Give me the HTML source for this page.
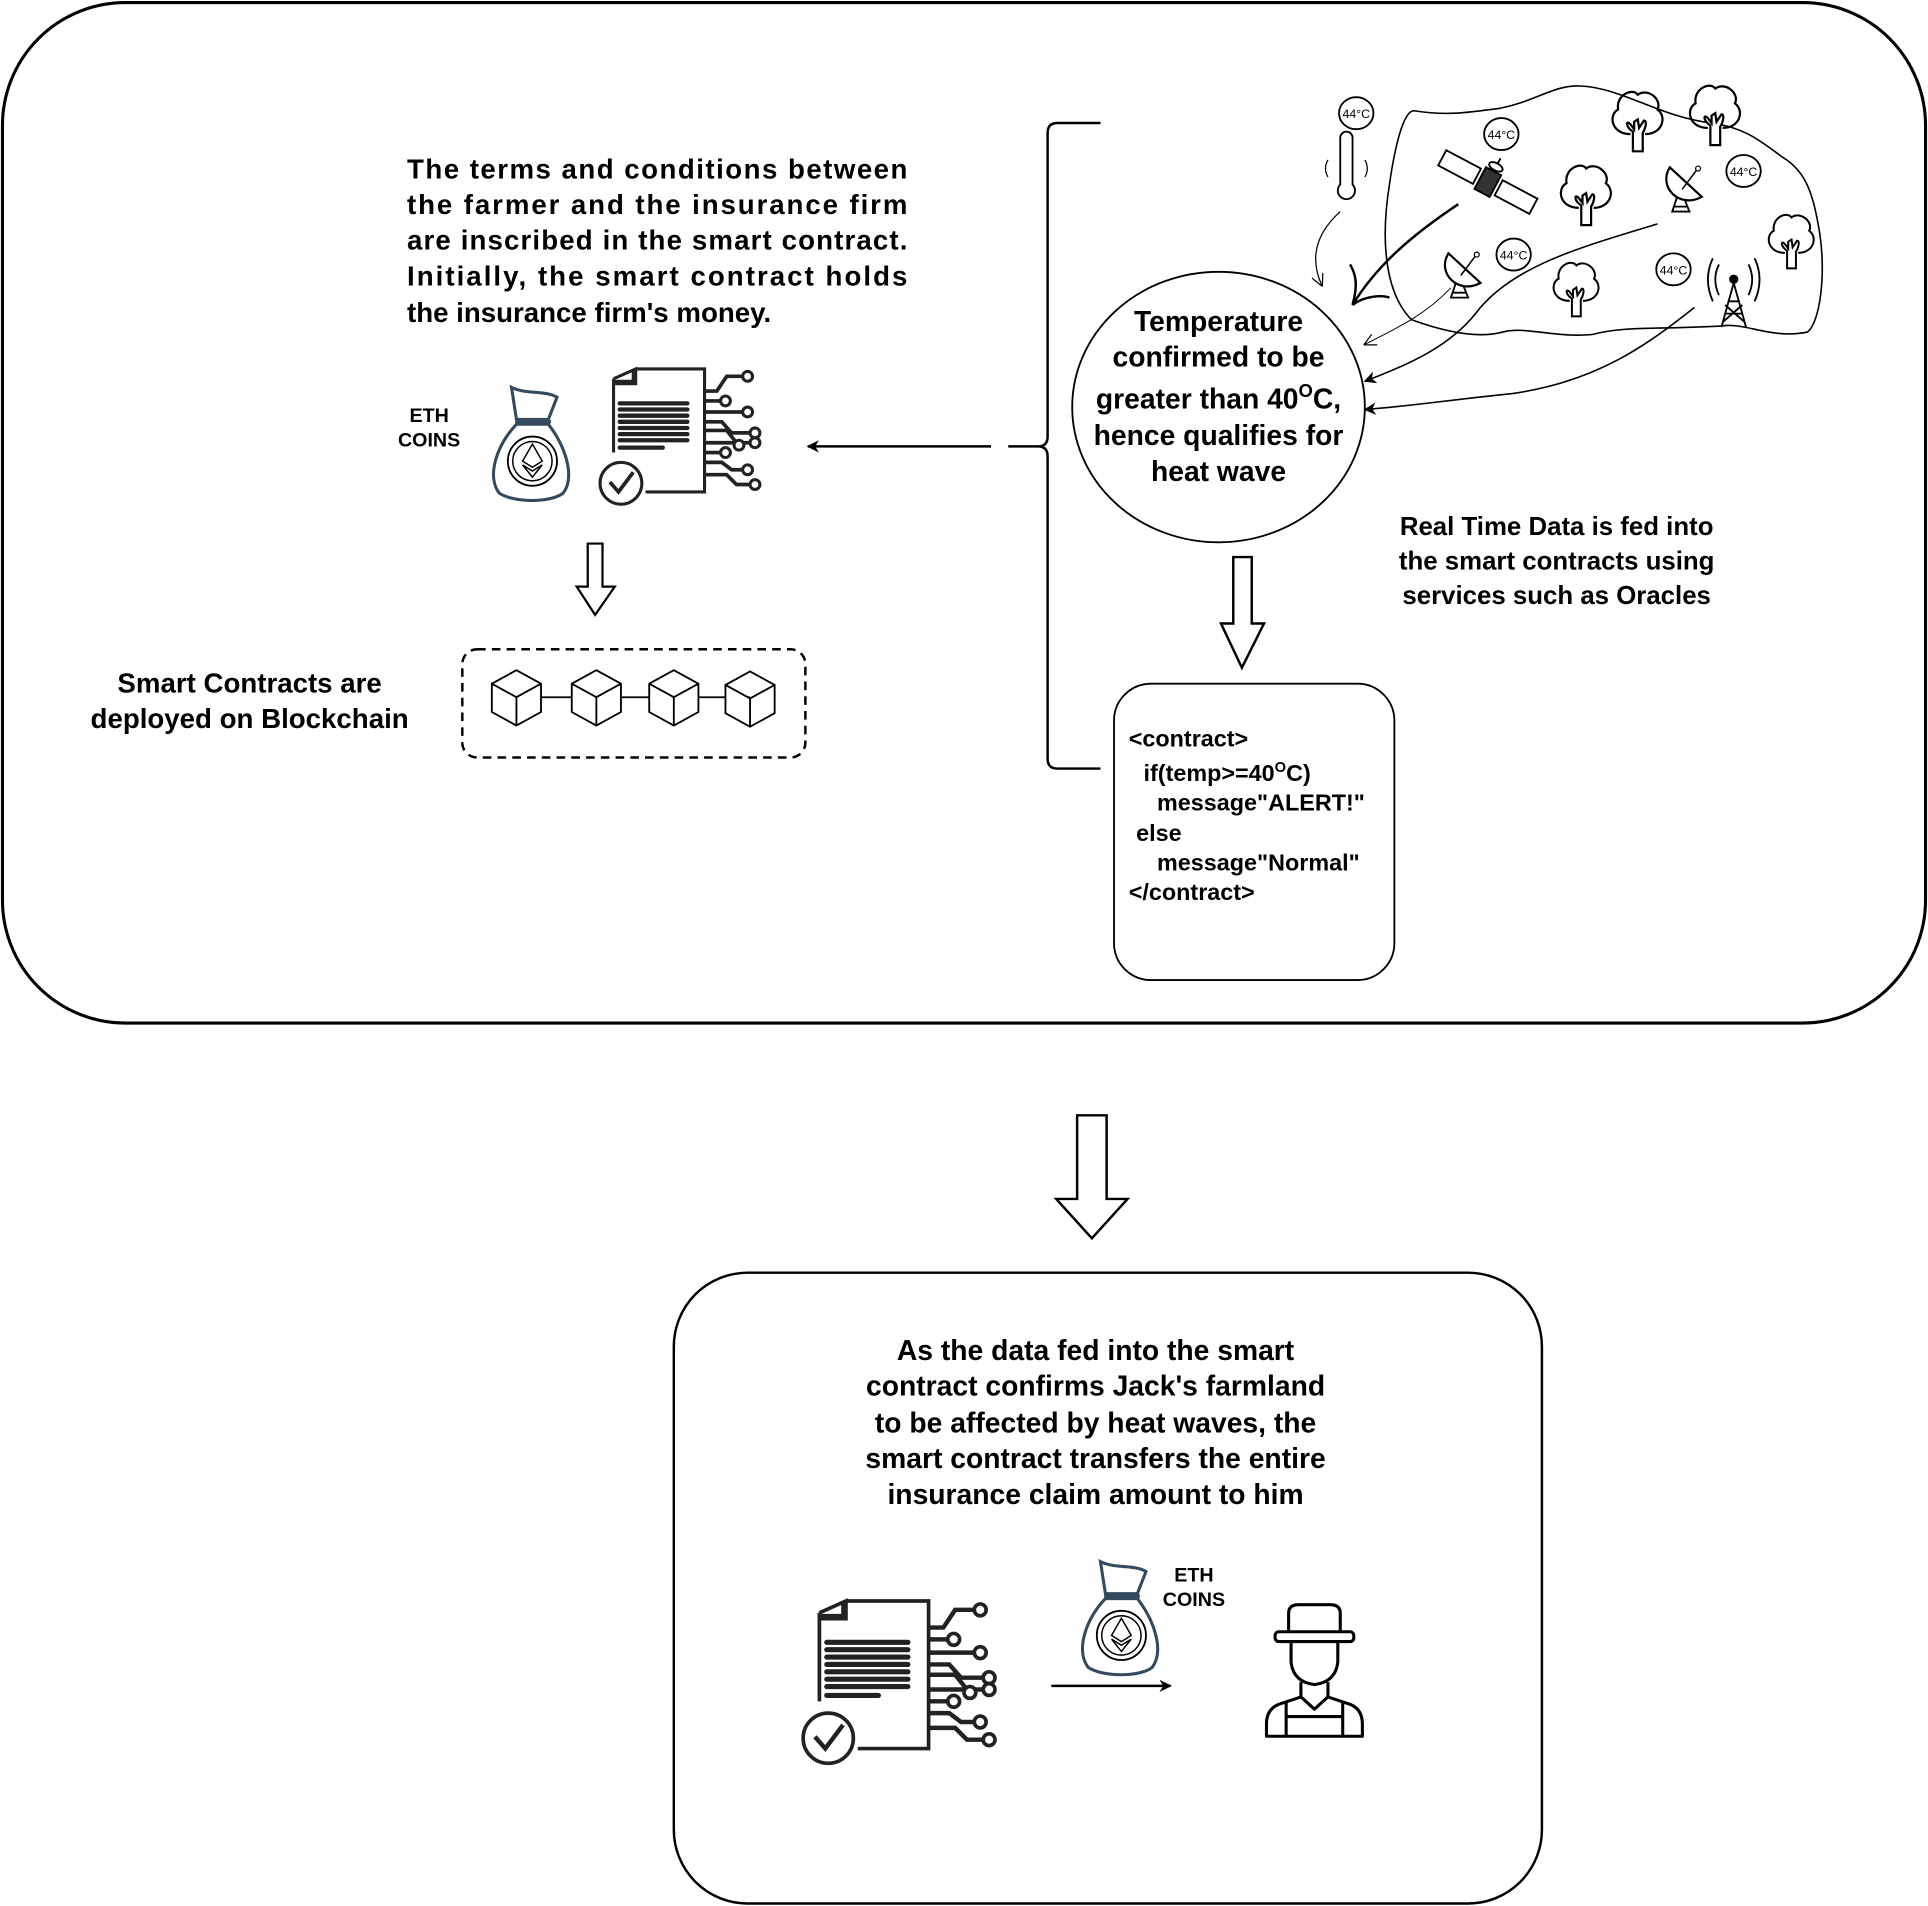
<!DOCTYPE html>
<html><head><style>html,body{margin:0;padding:0;background:#fff}svg{display:block}</style></head>
<body>
<svg width="1928" height="1906" viewBox="0 0 1568 1550" xmlns="http://www.w3.org/2000/svg" font-family="'Liberation Sans', sans-serif" font-weight="bold">
<defs>
<marker id="ah" markerWidth="10" markerHeight="10" refX="9" refY="5" orient="auto" markerUnits="userSpaceOnUse"><path d="M0,0 L10,5 L0,10 L3,5 Z" fill="#000"/></marker>
<marker id="oa" markerWidth="10" markerHeight="10" refX="9" refY="5" orient="auto" markerUnits="userSpaceOnUse"><path d="M0,0 L10,5 L0,10" fill="none" stroke="#000" stroke-width="1"/></marker>
<g id="doc">
  <path d="M12,8 L12,68 M12,8 L30,0 L30,12 L12,12 M30,0 L86,0 L86,100 L38,100" fill="none" stroke="#222" stroke-width="2.5"/>
  <path d="M12,10 L28,10 L28,0" fill="none" stroke="#222" stroke-width="2.5"/>
  <g stroke="#222" stroke-width="3.5" stroke-linecap="round">
  <line x1="17" y1="28" x2="72" y2="28"/><line x1="17" y1="33" x2="72" y2="33"/><line x1="17" y1="38" x2="72" y2="38"/><line x1="17" y1="43" x2="72" y2="43"/><line x1="17" y1="48" x2="72" y2="48"/><line x1="17" y1="53" x2="72" y2="53"/><line x1="17" y1="58" x2="72" y2="58"/><line x1="17" y1="64" x2="52" y2="64"/></g>
  <circle cx="18" cy="93" r="17" fill="#fff" stroke="#222" stroke-width="2.5"/>
  <path d="M9,92 L16,100 L28,84" fill="none" stroke="#222" stroke-width="3"/>
  <g fill="none" stroke="#222" stroke-width="3">
  <path d="M86,18 L96,18 L104,6 L118,6"/><path d="M86,26 L100,26"/><path d="M86,35 L118,35"/><path d="M86,43 L100,43 L108,52 L124,52"/><path d="M86,50 L104,50 L112,60"/><path d="M86,60 L124,60"/><path d="M86,68 L100,68"/><path d="M86,76 L100,76 L108,82 L118,82"/><path d="M86,86 L104,86 L112,94 L124,94"/></g>
  <g fill="#fff" stroke="#222" stroke-width="2.5">
  <circle cx="121" cy="6" r="4"/><circle cx="103" cy="26" r="4"/><circle cx="121" cy="35" r="4"/><circle cx="127" cy="52" r="4"/><circle cx="114" cy="62" r="4"/><circle cx="127" cy="60" r="4"/><circle cx="103" cy="68" r="4"/><circle cx="121" cy="82" r="4"/><circle cx="127" cy="94" r="4"/></g>
</g>
<g id="bag">
  <path d="M18,2 C30,8 45,4 55,10 L48,28 L22,28 Z" fill="#fff" stroke="#34495e" stroke-width="2.5"/>
  <line x1="21" y1="30" x2="50" y2="30" stroke="#34495e" stroke-width="3"/>
  <path d="M22,32 C5,50 -2,75 8,88 C20,96 50,96 60,88 C70,75 62,50 48,32 Z" fill="#fff" stroke="#34495e" stroke-width="2.5"/>
  <circle cx="35" cy="62" r="20" fill="none" stroke="#000" stroke-width="1.5"/>
  <circle cx="35" cy="62" r="16" fill="none" stroke="#000" stroke-width="1.2"/>
  <path d="M35,48 L27,62 L35,67 L43,62 Z M27,65 L35,75 L43,65 L35,70 Z" fill="none" stroke="#000" stroke-width="1.2"/>
</g>
<g id="cube"><path d="M0,-22 L20,-11 L20,12 L0,23 L-20,12 L-20,-11 Z M-20,-11 L0,0 L20,-11 M0,0 L0,23" fill="#fff" stroke="#000" stroke-width="1.5"/></g>
<g id="tree"><path d="M-4,28 L-4,12 C-10,8 -10,2 -6,6 L-3,10 L-3,4 L0,2 L1,9 L5,3 C8,3 6,10 4,13 L4,28 Z" fill="#fff" stroke="#000" stroke-width="1.8"/><path d="M-6,14 C-22,14 -24,-2 -16,-6 C-18,-18 -4,-24 0,-18 C8,-24 20,-14 16,-6 C24,0 20,14 6,14" fill="none" stroke="#000" stroke-width="1.8"/></g>
<g id="t44"><ellipse cx="0" cy="0" rx="14" ry="13" fill="#fff" stroke="#000" stroke-width="1.5"/><text x="0" y="4" font-size="10" font-weight="normal" text-anchor="middle">44°C</text></g>
<g id="dish"><path d="M-14,-16 C-24,0 -6,18 12,8 Z" fill="#fff" stroke="#000" stroke-width="1.8"/><path d="M-4,2 L8,-14" stroke="#000" stroke-width="1.2"/><circle cx="9" cy="-15" r="2" fill="#fff" stroke="#000"/><path d="M-8,8 L-12,20 L2,20 L-2,10 M-11,16 L0,16" fill="none" stroke="#000" stroke-width="1.5"/></g>
</defs>

<!-- outer panel -->
<rect x="2" y="2" width="1564" height="830" rx="100" fill="none" stroke="#000" stroke-width="2.5"/>

<!-- left text -->
<g font-size="22.5">
<text x="331" y="145" textLength="407" lengthAdjust="spacing">The terms and conditions between</text>
<text x="331" y="174" textLength="407" lengthAdjust="spacing">the farmer and the insurance firm</text>
<text x="331" y="203" textLength="407" lengthAdjust="spacing">are inscribed in the smart contract.</text>
<text x="331" y="232" textLength="407" lengthAdjust="spacing">Initially, the smart contract holds</text>
<text x="331" y="262">the insurance firm's money.</text>
</g>
<text x="349" y="343" font-size="16" text-anchor="middle">ETH</text>
<text x="349" y="363" font-size="16" text-anchor="middle">COINS</text>
<use href="#bag" transform="translate(398,313)"/>
<use href="#doc" transform="translate(487,300)"/>

<!-- arrow to doc -->
<line x1="806" y1="363" x2="657" y2="363" stroke="#000" stroke-width="2" marker-end="url(#ah)"/>
<!-- brace -->
<path d="M895,100 L860,100 Q852,100 852,108 L852,355 Q852,363 844,363 L820,363 M844,363 Q852,363 852,371 L852,617 Q852,625 860,625 L895,625" fill="none" stroke="#000" stroke-width="2"/>

<!-- hollow arrow left -->
<path d="M478,442 L490,442 L490,477 L500,477 L484,500 L469,477 L478,477 Z" fill="#fff" stroke="#000" stroke-width="1.8"/>

<!-- blockchain -->
<rect x="376" y="528" width="279" height="88" rx="12" fill="none" stroke="#000" stroke-width="2" stroke-dasharray="7,5"/>
<line x1="420" y1="567" x2="610" y2="567" stroke="#000" stroke-width="1.5"/>
<use href="#cube" transform="translate(420,567)"/>
<use href="#cube" transform="translate(485,567)"/>
<use href="#cube" transform="translate(548,567)"/>
<use href="#cube" transform="translate(610,568)"/>
<g font-size="22.5" text-anchor="middle">
<text x="203" y="563">Smart Contracts are</text>
<text x="203" y="592">deployed on Blockchain</text>
</g>

<!-- circle -->
<ellipse cx="991" cy="331" rx="119" ry="110" fill="#fff" stroke="#000" stroke-width="1.5"/>
<g font-size="23" text-anchor="middle">
<text x="991" y="269">Temperature</text>
<text x="991" y="298">confirmed to be</text>
<text x="991" y="332">greater than 40<tspan font-size="15" dy="-9">O</tspan><tspan dy="9">C,</tspan></text>
<text x="991" y="362">hence qualifies for</text>
<text x="991" y="391">heat wave</text>
</g>

<!-- hollow arrow down -->
<path d="M1003,453 L1018,453 L1018,507 L1028,507 L1010,543 L993,507 L1003,507 Z" fill="#fff" stroke="#000" stroke-width="2"/>

<!-- code box -->
<rect x="906" y="556" width="228" height="241" rx="30" fill="#fff" stroke="#000" stroke-width="1.5"/>
<g font-size="19" font-weight="bold">
<text x="918" y="607">&lt;contract&gt;</text>
<text x="930" y="635">if(temp&gt;=40<tspan font-size="12" dy="-7">O</tspan><tspan dy="7">C)</tspan></text>
<text x="941" y="659">message"ALERT!"</text>
<text x="924" y="684">else</text>
<text x="941" y="708">message"Normal"</text>
<text x="918" y="732">&lt;/contract&gt;</text>
</g>

<g font-size="21" text-anchor="middle">
<text x="1266" y="435">Real Time Data is fed into</text>
<text x="1266" y="463">the smart contracts using</text>
<text x="1266" y="491">services such as Oracles</text>
</g>

<!-- land blob -->
<path d="M1287,70 C1320,72 1350,95 1392,100 C1420,104 1432,115 1450,128 C1470,140 1475,160 1480,190 C1485,225 1480,262 1470,270 C1440,276 1420,262 1400,265 C1350,268 1320,265 1295,272 C1265,275 1240,265 1222,270 C1200,276 1170,268 1148,260 C1128,240 1122,200 1130,150 C1135,115 1142,90 1150,90 C1175,94 1190,92 1220,88 C1250,82 1265,68 1287,70 Z" fill="none" stroke="#000" stroke-width="1.3"/>
<use href="#tree" transform="translate(1332,95)"/>
<use href="#tree" transform="translate(1395,90)"/>
<use href="#tree" transform="translate(1290,155)"/>
<use href="#tree" transform="translate(1457,193) scale(0.9)"/>
<use href="#tree" transform="translate(1282,232) scale(0.9)"/>
<use href="#t44" transform="translate(1103,92)"/>
<use href="#t44" transform="translate(1221,109)"/>
<use href="#t44" transform="translate(1418,139)"/>
<use href="#t44" transform="translate(1231,207)"/>
<use href="#t44" transform="translate(1361,219)"/>
<!-- thermometer -->
<path d="M1090,112 L1090,150 A7,7 0 1 0 1100,150 L1100,112 A5,5 0 0 0 1090,112 Z" fill="#fff" stroke="#000" stroke-width="1.5"/>
<path d="M1080,130 Q1076,137 1080,144 M1110,130 Q1114,137 1110,144" fill="none" stroke="#000"/>
<!-- satellite -->
<g transform="translate(1210,148) rotate(28)" fill="#fff" stroke="#000" stroke-width="1.5">
<rect x="-42" y="-7" width="32" height="14"/><rect x="10" y="-7" width="32" height="14"/>
<rect x="-7" y="-10" width="14" height="20" fill="#333"/><line x1="0" y1="-10" x2="0" y2="-22"/><ellipse cx="0" cy="-14" rx="6" ry="3"/></g>
<use href="#dish" transform="translate(1372,152)"/>
<use href="#dish" transform="translate(1192,222)"/>
<!-- tower -->
<g fill="none" stroke="#000" stroke-width="1.5"><circle cx="1410" cy="227" r="3" fill="#000"/><path d="M1410,230 L1400,266 M1410,230 L1420,266 M1403,255 L1417,255 M1405,245 L1415,245 M1401,262 L1417,248 M1419,262 L1403,248"/>
<path d="M1398,215 Q1392,227 1398,240 M1393,210 Q1385,227 1393,245 M1422,215 Q1428,227 1422,240 M1427,210 Q1435,227 1427,245"/></g>
<!-- data connectors -->
<path d="M1090,172 C1070,190 1065,210 1075,232" fill="none" stroke="#000" stroke-width="1" marker-end="url(#oa)"/>
<path d="M1186,166 C1150,190 1120,215 1100,248" fill="none" stroke="#000" stroke-width="2"/>
<path d="M1100,248 C1105,230 1102,222 1098,215 M1100,248 C1110,240 1125,240 1130,242" fill="none" stroke="#000" stroke-width="2"/>
<path d="M1180,234 C1160,255 1140,265 1110,280" fill="none" stroke="#000" stroke-width="0.8" marker-end="url(#oa)"/>
<path d="M1348,182 C1290,200 1230,215 1200,255 C1180,280 1150,295 1110,310" fill="none" stroke="#000" stroke-width="1.3" marker-end="url(#ah)"/>
<path d="M1378,250 C1340,280 1300,310 1230,320 C1180,325 1150,330 1110,333" fill="none" stroke="#000" stroke-width="1.3" marker-end="url(#ah)"/>

<!-- big arrow down -->
<path d="M876,907 L900,907 L900,975 L917,975 L888,1007 L859,975 L876,975 Z" fill="#fff" stroke="#000" stroke-width="2"/>

<!-- bottom panel -->
<rect x="548" y="1035" width="706" height="513" rx="60" fill="none" stroke="#000" stroke-width="2"/>
<g font-size="23" text-anchor="middle">
<text x="891" y="1106">As the data fed into the smart</text>
<text x="891" y="1135">contract confirms Jack's farmland</text>
<text x="891" y="1165">to be affected by heat waves, the</text>
<text x="891" y="1194">smart contract transfers the entire</text>
<text x="891" y="1223">insurance claim amount to him</text>
</g>
<use href="#doc" transform="translate(652,1302) scale(1.2,1.2)"/>
<use href="#bag" transform="translate(877,1268)"/>
<text x="971" y="1286" font-size="16" text-anchor="middle">ETH</text>
<text x="971" y="1306" font-size="16" text-anchor="middle">COINS</text>
<line x1="855" y1="1371" x2="952" y2="1371" stroke="#000" stroke-width="2" marker-end="url(#ah)"/>
<!-- farmer -->
<g fill="none" stroke="#000" stroke-width="2.5" stroke-linejoin="round">
<path d="M1048,1327 L1048,1312 Q1048,1305 1056,1305 L1082,1305 Q1090,1305 1090,1312 L1090,1327"/>
<rect x="1037" y="1327" width="64" height="8" rx="3"/>
<path d="M1050,1335 L1050,1352 Q1052,1368 1069,1370 Q1086,1368 1088,1352 L1088,1335"/>
<path d="M1058,1368 L1058,1380 L1040,1386 Q1030,1390 1030,1402 L1030,1412 L1108,1412 L1108,1402 Q1108,1390 1098,1386 L1080,1380 L1080,1368"/>
<path d="M1046,1384 L1046,1412 M1092,1384 L1092,1412 M1046,1396 L1092,1396 M1058,1380 L1069,1390 L1080,1380"/>
</g>
</svg>
</body></html>
